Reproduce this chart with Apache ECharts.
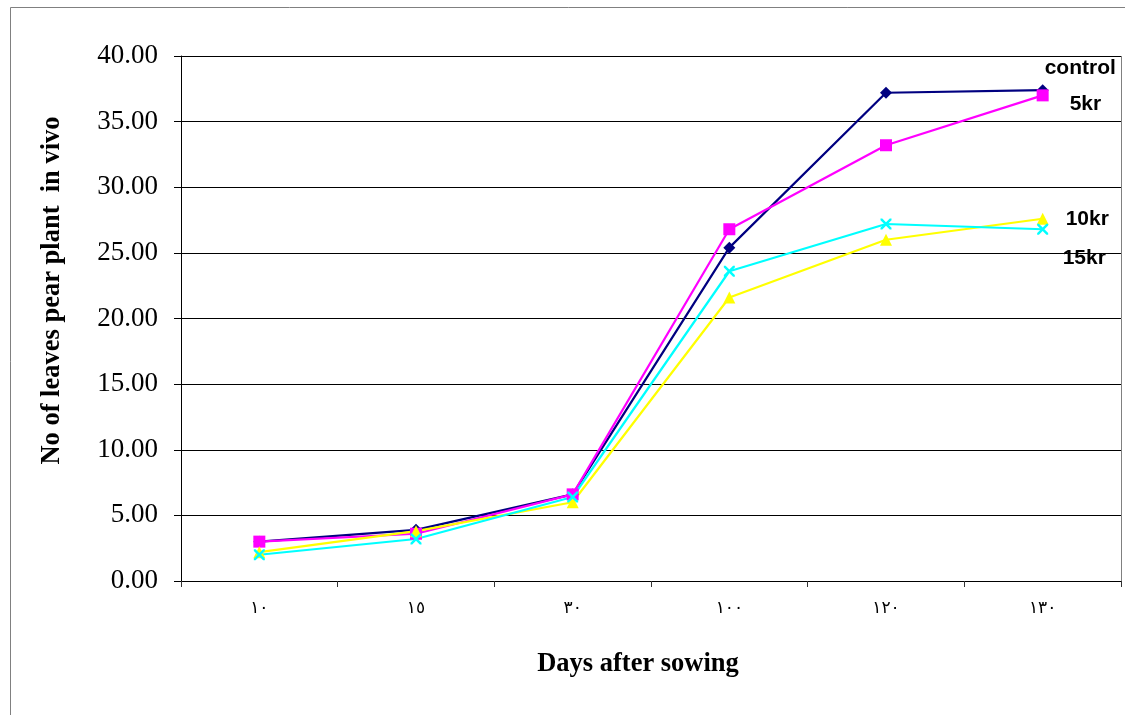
<!DOCTYPE html>
<html>
<head>
<meta charset="utf-8">
<script src="https://cdn.jsdelivr.net/npm/echarts@6/dist/echarts.min.js"></script>
<style>
  html, body { margin: 0; padding: 0; background: #fff; }
  #chart { width: 1125px; height: 715px; }
</style>
</head>
<body>
<div id="chart"></div>
<script>
// Days after sowing (Arabic-Indic numerals)
const days = ['١٠', '١٥', '٣٠', '١٠٠', '١٢٠', '١٣٠'];

// Number of leaves per plant for each treatment
const control = [3.0, 3.9, 6.6, 25.4, 37.2, 37.4];
const kr5     = [3.0, 3.6, 6.6, 26.8, 33.2, 37.0];
const kr10    = [2.2, 3.8, 6.0, 21.6, 26.0, 27.6];
const kr15    = [2.0, 3.2, 6.4, 23.6, 27.2, 26.8];

const yTicks = { min: 0, max: 40, step: 5 };

const crossPath = 'path://M0,0L1.6,0L5,3.4L8.4,0L10,0L10,1.6L6.6,5L10,8.4L10,10L8.4,10L5,6.6L1.6,10L0,10L0,8.4L3.4,5L0,1.6Z';

const labelFont = { fontFamily: 'Liberation Sans, Arial, sans-serif', fontWeight: 'bold', fontSize: 21, color: '#000' };
const serif = 'Liberation Serif, Times New Roman, serif';

function makeSeries(name, data, color, symbol, size, offset) {
  return {
    name: name,
    type: 'line',
    data: data,
    symbol: symbol,
    symbolSize: size,
    showAllSymbol: true,
    lineStyle: { color: color, width: 2.2 },
    itemStyle: { color: color },
    emphasis: { disabled: true },
    endLabel: Object.assign({ show: true, formatter: name, distance: 0, offset: offset, align: 'left' }, labelFont),
    animation: false
  };
}

const chart = echarts.init(document.getElementById('chart'), null, { renderer: 'canvas' });

chart.setOption({
  backgroundColor: '#fff',
  animation: false,
  graphic: [{
    type: 'rect',
    shape: { x: 10.5, y: 7.5, width: 1130, height: 720 },
    style: { fill: 'none', stroke: '#808080', lineWidth: 1 },
    silent: true
  }, {
    type: 'line',
    shape: { x1: 1121.5, y1: 56, x2: 1121.5, y2: 581 },
    style: { stroke: '#808080', lineWidth: 1 },
    silent: true
  }],
  grid: { left: 181, right: 4, top: 56, bottom: 134, containLabel: false },
  xAxis: {
    type: 'category',
    data: days,
    boundaryGap: true,
    axisLine: { show: true, lineStyle: { color: '#000', width: 1 } },
    axisTick: { show: true, inside: false, length: 6, alignWithLabel: false, lineStyle: { color: '#333' } },
    axisLabel: { margin: 19, fontFamily: 'DejaVu Sans', fontSize: 17, color: '#000' },
    splitLine: { show: false },
    name: 'Days after sowing',
    nameLocation: 'middle',
    nameGap: 70,
    nameTextStyle: { fontFamily: serif, fontWeight: 'bold', fontSize: 26.5, color: '#000', padding: [0, 26, 0, 0] }
  },
  yAxis: {
    type: 'value',
    min: yTicks.min,
    max: yTicks.max,
    interval: yTicks.step,
    axisLine: { show: true, lineStyle: { color: '#000', width: 1 } },
    axisTick: { show: true, inside: false, length: 7, lineStyle: { color: '#000' } },
    axisLabel: { margin: 23, fontFamily: serif, fontSize: 27, color: '#000', formatter: v => v.toFixed(2) },
    splitLine: { show: true, lineStyle: { color: '#000', width: 1 } },
    name: 'No of leaves pear plant  in vivo',
    nameLocation: 'middle',
    nameGap: 115,
    nameRotate: 90,
    nameTextStyle: { fontFamily: serif, fontWeight: 'bold', fontSize: 26.5, color: '#000', padding: [0, 0, 0, 56] }
  },
  series: [
    makeSeries('control', control, '#000080', 'diamond', 12, [2, -22]),
    makeSeries('5kr', kr5, '#FF00FF', 'rect', 12, [27, 9]),
    makeSeries('10kr', kr10, '#FFFF00', 'triangle', 12, [23, 0]),
    makeSeries('15kr', kr15, '#00FFFF', crossPath, 11, [20, 29])
  ]
});
</script>
</body>
</html>
